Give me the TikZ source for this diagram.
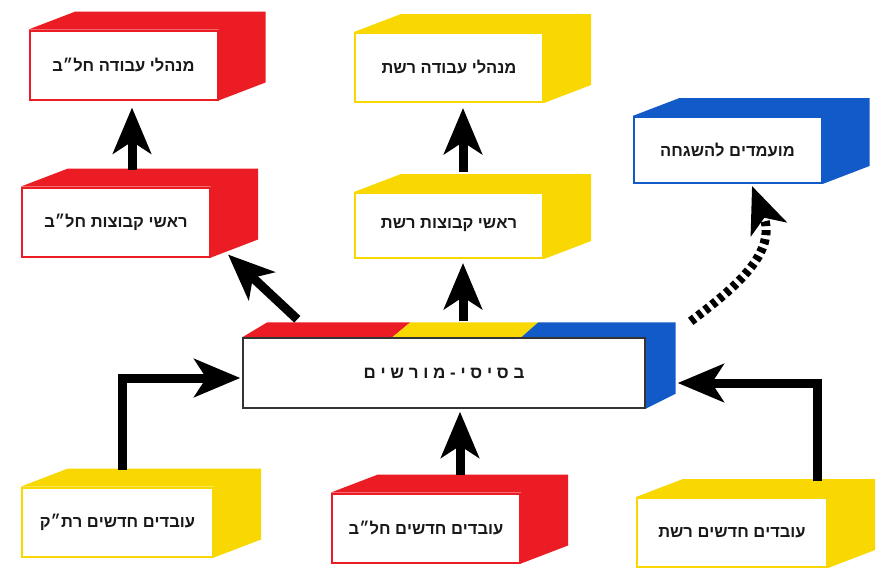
\documentclass[tikz,border=0pt]{standalone}
\usepackage{fontspec}
\setmainfont{Liberation Sans}
\usetikzlibrary{arrows.meta,calc,backgrounds}
\TeXXeTstate=1
\definecolor{boxred}{RGB}{236,28,36}
\definecolor{boxyellow}{RGB}{248,216,0}
\definecolor{boxblue}{RGB}{18,90,200}
\newcommand{\heb}[1]{\beginR #1\endR}

\begin{document}
\begin{tikzpicture}[x=1pt,y=-1pt,
  face/.style={draw=#1, line width=2pt, fill=white, minimum width=188pt,
    minimum height=69pt, inner sep=0pt, text=black!90,
    font=\fontsize{16.5}{18}\selectfont\bfseries},
  flow/.style={line width=9pt, -{Stealth[length=46pt,width=38pt,inset=12pt]}},
  dotflow/.style={flow, dash pattern=on 5pt off 4pt},
  ]
\useasboundingbox (0,0) rectangle (876,574);

% front faces of the boxes
\node[face=boxred]    (mR)   at (123.5,65)  {\heb{מנהלי עבודה חל״ב}};
\node[face=boxred]    (hR)   at (116,222)   {\heb{ראשי קבוצות חל״ב}};
\node[face=boxyellow] (mY)   at (449,67.5)  {\heb{מנהלי עבודה רשת}};
\node[face=boxyellow, minimum height=65pt] (hY) at (449,225.5) {\heb{ראשי קבוצות רשת}};
\node[face=boxblue, minimum height=66pt]   (cand) at (727.5,150) {\heb{מועמדים להשגחה}};
\node[face=black!80, line width=1.4pt, minimum width=402pt, minimum height=70pt,
      font=\fontsize{17}{19}\selectfont\bfseries]
      (base) at (444,373) {\heb{ב ס י ס י - מ ו ר ש י ם}};
\node[face=boxyellow, minimum width=191pt] (nL) at (117.5,522) {\heb{עובדים חדשים רת״ק}};
\node[face=boxred]    (nM)   at (426,528)   {\heb{עובדים חדשים חל״ב}};
\node[face=boxyellow, minimum width=190pt] (nR) at (732,532.5) {\heb{עובדים חדשים רשת}};

% depth of the boxes (top and side faces)
\begin{scope}[on background layer]
  \fill[white] (0,0) rectangle (876,574);
  \foreach \n/\c in {mR/boxred, hR/boxred, mY/boxyellow, hY/boxyellow,
                     cand/boxblue, nL/boxyellow, nM/boxred, nR/boxyellow}
    \fill[\c] (\n.north west) -- ($(\n.north west)+(47,-18)$)
      -- ($(\n.north east)+(47,-18)$) -- ($(\n.south east)+(47,-18)$)
      -- (\n.south east) -- (\n.north east) -- cycle;
  % central box: three-coloured top, blue side
  \fill[boxred] (base.north west) -- ($(base.north west)+(25,-15)$)
    -- ($(base.north west)+(168,-15)$) -- ($(base.north west)+(150,0)$) -- cycle;
  \fill[boxyellow] ($(base.north west)+(150,0)$) -- ($(base.north west)+(168,-15)$)
    -- ($(base.north west)+(296,-15)$) -- ($(base.north west)+(279,0)$) -- cycle;
  \fill[boxblue] ($(base.north west)+(279,0)$) -- ($(base.north west)+(296,-15)$)
    -- ($(base.north east)+(30,-15)$) -- ($(base.south east)+(30,-15)$)
    -- (base.south east) -- (base.north east) -- cycle;
\end{scope}

% promotion arrows
\draw[flow] ($(hR.north)+(16,-17)$) -- ($(mR.south)+(8.5,7)$);
\draw[flow] ($(hY.north)+(14,-20)$) -- ($(mY.south)+(14,5)$);
\draw[flow] ($(base.north)+(19,-16)$) -- ($(hY.south)+(14,4)$);
\draw[flow] ($(base.north west)+(55,-18)$) -- ($(hR.south east)+(17,-3)$);
\draw[dotflow] ($(base.north east)+(45,-16)$)
  .. controls ($(base.north east)+(90,-50)$) and ($(base.north east)+(132,-85)$)
  .. ($(cand.south)+(24.5,2)$);

% intake arrows
\draw[flow] ($(nL.north)+(4.5,-17)$) |- ($(base.west)+(-2,5)$);
\draw[flow] ($(nM.north)+(34,-18)$) -- ($(base.south)+(16,3)$);
\draw[flow] ($(nR.north)+(85,-16)$) |- ($(base.east)+(32,10)$);
\end{tikzpicture}
\end{document}
